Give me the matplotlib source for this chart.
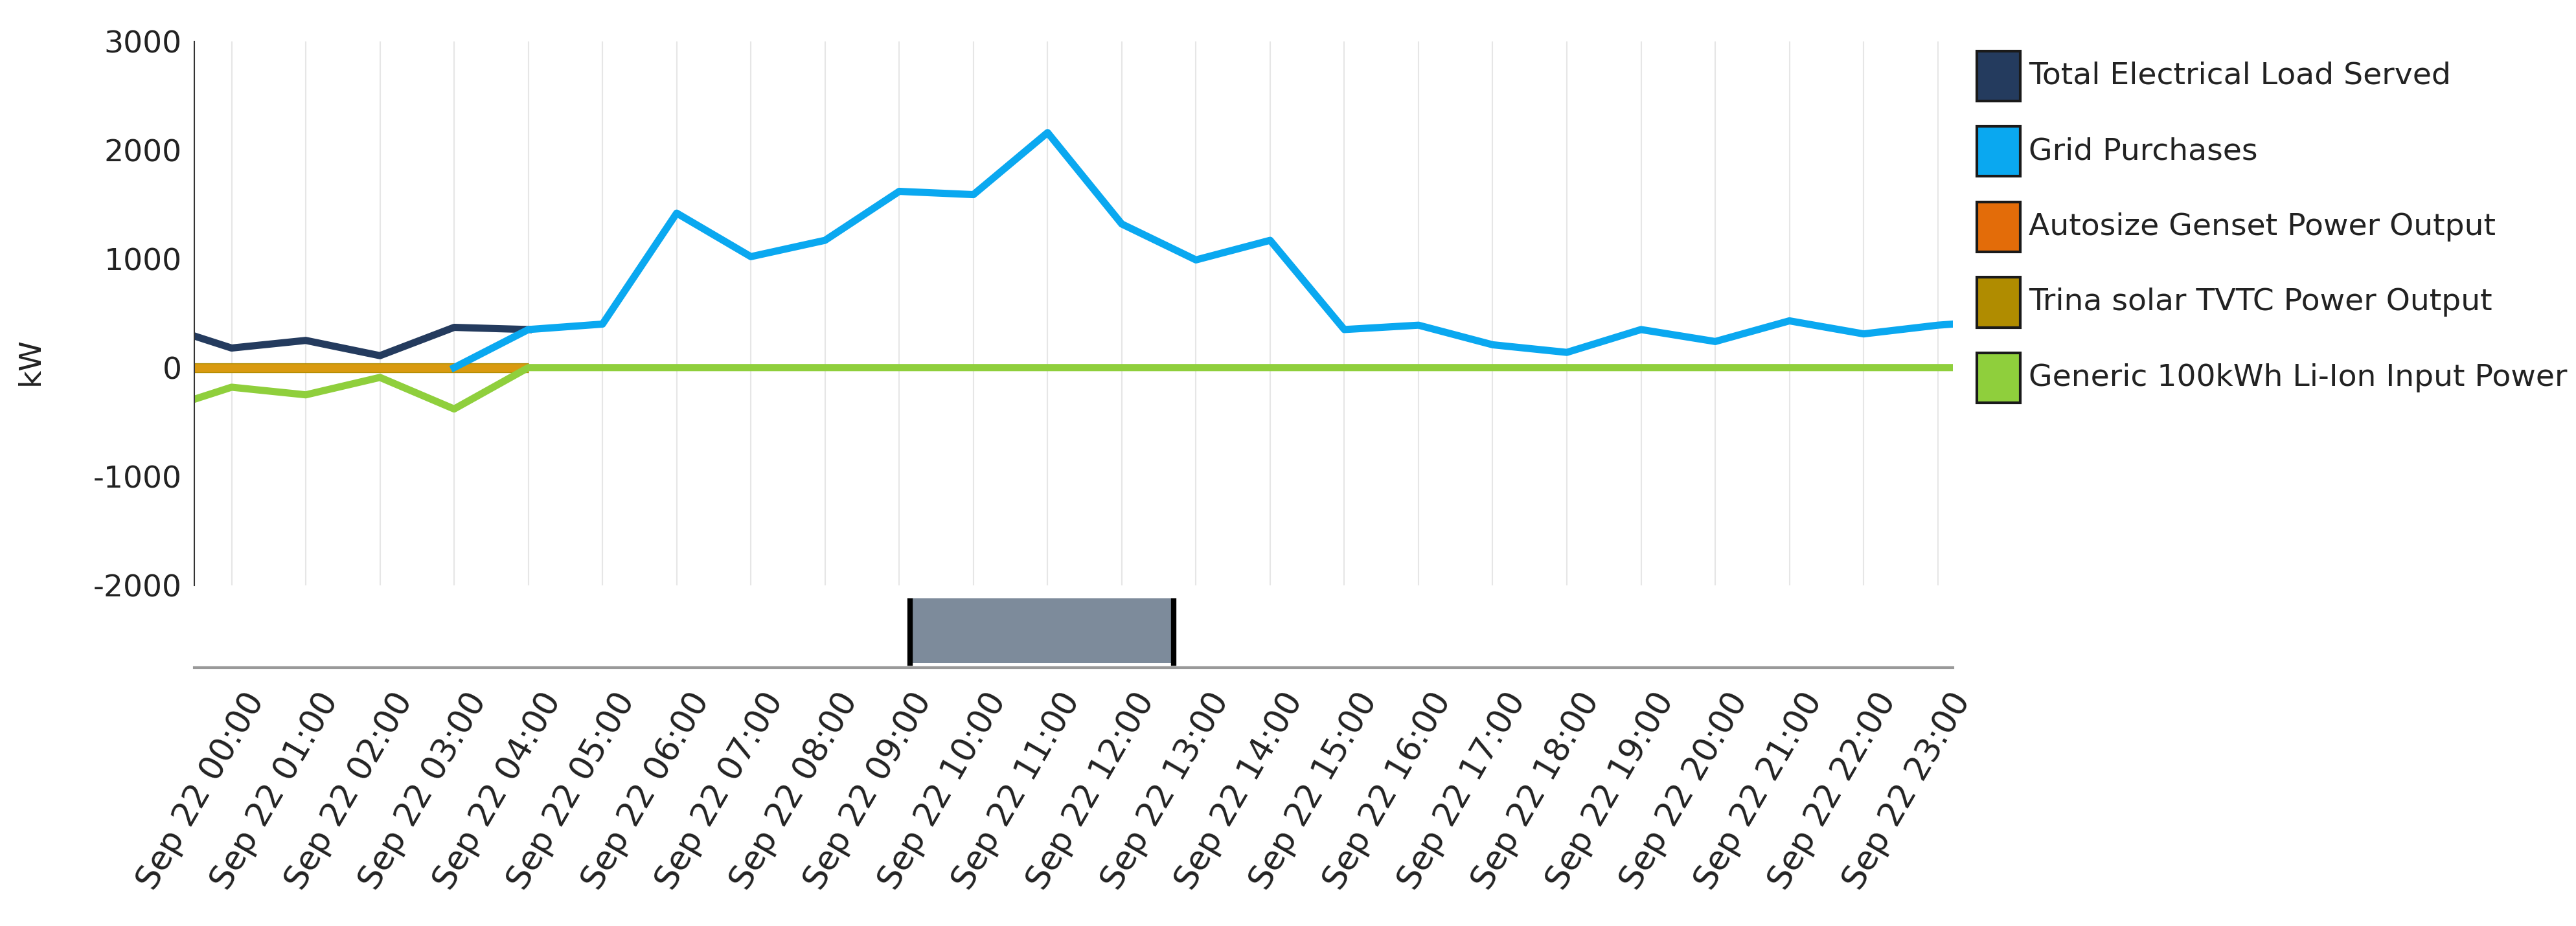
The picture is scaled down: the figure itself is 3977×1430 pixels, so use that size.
import matplotlib.pyplot as plt
from matplotlib.patches import Rectangle

plt.rcParams["axes.unicode_minus"] = False

# ---------------- data (kW), hour offsets from Sep 22 00:00 ----------------
hours_left = [-0.5, 0, 1, 2, 3, 4]
load_served = [290, 180, 250, 110, 370, 350]

hours_grid = [3, 4, 5, 6, 7, 8, 9, 10, 11, 12, 13, 14, 15, 16, 17, 18, 19, 20, 21, 22, 23, 23.2]
grid_purchases = [0, 350, 400, 1420, 1020, 1170, 1620, 1590, 2160, 1320, 990, 1170,
                  350, 390, 210, 140, 350, 240, 430, 310, 390, 400]

hours_gen = [-0.5, 4]
genset = [0, 0]
trina = [0, 0]

hours_batt = [-0.5, 0, 1, 2, 3, 4, 23.2]
battery = [-290, -180, -250, -90, -380, 0, 0]

tick_labels = ["Sep 22 %02d:00" % h for h in range(24)]
legend_names = ["Total Electrical Load Served", "Grid Purchases",
                "Autosize Genset Power Output", "Trina solar TVTC Power Output",
                "Generic 100kWh Li-Ion Input Power"]
colors = ["#243b5e", "#0aa8f0", "#e36c09", "#b08c00", "#8fcf3c"]

# ---------------- figure ----------------
fig = plt.figure(figsize=(39.77, 14.30), dpi=100)
ax = fig.add_axes([0.0755, 0.368, 0.6825, 0.5875])
xlim = (-0.5, 23.2)

for h in range(24):
    ax.axvline(h, color="#e6e6e6", lw=1.5, zorder=0)

lw = 8
ax.plot(hours_gen, trina, color=colors[3], lw=lw + 3, solid_capstyle="butt")
ax.plot(hours_gen, genset, color="#d99a10", lw=lw + 1, solid_capstyle="butt")
ax.plot(hours_batt, battery, color=colors[4], lw=lw)
ax.plot(hours_left, load_served, color=colors[0], lw=lw)
ax.plot(hours_grid, grid_purchases, color=colors[1], lw=lw)

ax.set_xlim(*xlim)
ax.set_ylim(-2000, 3000)
ax.set_yticks([-2000, -1000, 0, 1000, 2000, 3000])
ax.tick_params(axis="y", labelsize=34, length=0, pad=14, colors="#222222")
ax.set_xticks([])
for s in ["top", "right", "bottom"]:
    ax.spines[s].set_visible(False)
ax.spines["left"].set_color("#333333")
ax.spines["left"].set_linewidth(1.5)
fig.text(0.012, 0.61, "kW", rotation=90, fontsize=34, va="center", ha="center", color="#222222")

# ---------------- navigator / x labels ----------------
nav = fig.add_axes([0.0755, 0.279, 0.6825, 0.075])
nav.set_xlim(*xlim)
nav.set_ylim(0, 1)
nav.add_patch(Rectangle((9.15, 0.07), 3.55, 0.93, facecolor="#7d8b9b", edgecolor="none"))
nav.plot([9.15, 9.15], [0.07, 1.0], color="black", lw=6)
nav.plot([12.7, 12.7], [0.07, 1.0], color="black", lw=6)
for s in ["top", "right", "left"]:
    nav.spines[s].set_visible(False)
nav.spines["bottom"].set_color("#999999")
nav.spines["bottom"].set_linewidth(3)
nav.set_yticks([])
nav.set_xticks([h + 0.15 for h in range(24)])
nav.set_xticklabels(tick_labels, rotation=60, ha="right", rotation_mode="anchor",
                    fontsize=37, color="#222222")
nav.tick_params(axis="x", length=0, pad=22)

# ---------------- legend ----------------
lx, ly0, dy = 0.7675, 0.918, 0.0815
for i, (name, c) in enumerate(zip(legend_names, colors)):
    y = ly0 - i * dy
    fig.patches.append(Rectangle((lx, y - 0.027), 0.0168, 0.054, transform=fig.transFigure,
                                 facecolor=c, edgecolor="#1a1a1a", lw=3))
    fig.text(lx + 0.02, y, name, fontsize=34, va="center", ha="left", color="#222222")

fig.savefig("out.png", dpi=100)
